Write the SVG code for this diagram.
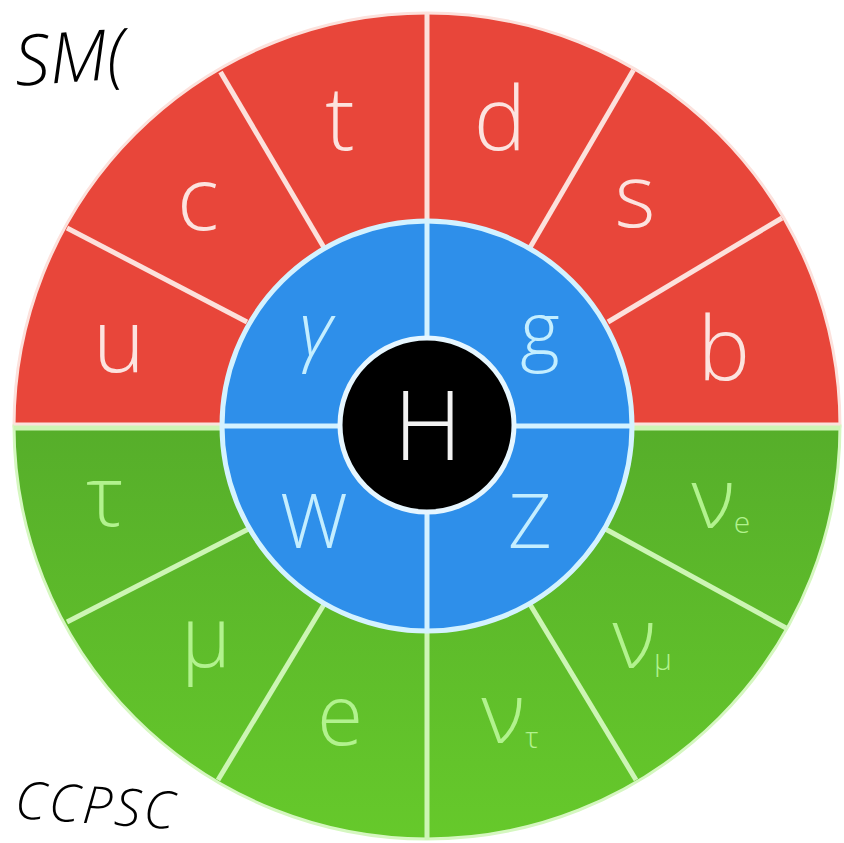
<svg xmlns="http://www.w3.org/2000/svg" width="844" height="843" viewBox="0 0 844 843">
<defs>
<linearGradient id="gGreen" x1="0" y1="426" x2="0" y2="840" gradientUnits="userSpaceOnUse">
<stop offset="0" stop-color="#56AE2A"/>
<stop offset="1" stop-color="#66C92B"/>
</linearGradient>
<style>
.lbl{font-family:"Open Sans","Liberation Sans",sans-serif;font-weight:300;text-anchor:middle}
.r{fill:#FCE3DF;font-size:88px}
.b{fill:#C4EEFF;font-size:76px}
.g{fill:#B2F28E;font-size:84px}
.sub{font-size:30px}
.rl{stroke:#FCE1DC;stroke-width:5;fill:none}
.gl{stroke:#CDF5B5;stroke-width:5;fill:none}
.bl{stroke:#D4F2FF;stroke-width:5;fill:none}
.hand{font-family:"Open Sans","DejaVu Sans",sans-serif;font-style:italic;font-weight:300;fill:#000}
</style>
</defs>
<rect width="844" height="843" fill="#fff"/>
<g id="handwriting">
<text class="hand" x="16" y="86" font-size="70" transform="rotate(-4 16 86)">SM(</text>
<text class="hand" x="14" y="818" font-size="52" letter-spacing="3" transform="rotate(4 14 818)">CCPSC</text>
</g>
<g id="quarks">
<path d="M14,426 A413,413 0 0 1 840,426 Z" fill="#E8463A" stroke="#FCE1DC" stroke-width="3"/>
</g>
<g id="leptons">
<path d="M14,426 A413,413 0 0 0 840,426 Z" fill="url(#gGreen)" stroke="#D5F7C0" stroke-width="3"/>
</g>
<g id="connectors">
<line class="rl" x1="427" y1="12" x2="427" y2="426"/>
<line class="gl" x1="427" y1="426" x2="427" y2="840"/>
<line class="rl" x1="14" y1="425" x2="840" y2="425"/>
<line class="gl" x1="14" y1="428" x2="840" y2="428"/>
<line class="rl" x1="247" y1="322" x2="67" y2="228"/>
<line class="rl" x1="324.5" y1="248.5" x2="220.5" y2="72"/>
<line class="rl" x1="529.5" y1="248.5" x2="633.5" y2="70"/>
<line class="rl" x1="608" y1="322" x2="782" y2="218"/>
<line class="gl" x1="249.5" y1="528.5" x2="67" y2="622"/>
<line class="gl" x1="324.5" y1="603.5" x2="218" y2="780"/>
<line class="gl" x1="529.5" y1="603.5" x2="636" y2="780"/>
<line class="gl" x1="604.5" y1="528.5" x2="786" y2="628"/>
</g>
<g id="bosons">
<circle cx="427" cy="426" r="205" fill="#2E8FEA" stroke="#D4F2FF" stroke-width="5"/>
<line class="bl" x1="427" y1="221" x2="427" y2="631"/>
<line class="bl" x1="222" y1="426" x2="632" y2="426"/>
</g>
<g id="higgs">
<circle cx="427" cy="425" r="87" fill="#000" stroke="#E6F6FF" stroke-width="5"/>
<text class="lbl" x="428" y="460" font-size="95" fill="#F2F2F2">H</text>
</g>
<g id="label-u"><text class="lbl r" x="119" y="372">u</text></g>
<g id="label-c"><text class="lbl r" x="198" y="230">c</text></g>
<g id="label-t"><text class="lbl r" x="340" y="150">t</text></g>
<g id="label-d"><text class="lbl r" x="500" y="150">d</text></g>
<g id="label-s"><text class="lbl r" x="635" y="227">s</text></g>
<g id="label-b"><text class="lbl r" x="724" y="380">b</text></g>
<g id="label-gamma"><text class="lbl b" x="316" y="356" font-style="italic">γ</text></g>
<g id="label-g"><text class="lbl b" x="540" y="356">g</text></g>
<g id="label-W"><text class="lbl b" x="314" y="548">W</text></g>
<g id="label-Z"><text class="lbl b" x="530" y="548">Z</text></g>
<g id="label-tau"><text class="lbl g" x="105" y="526">τ</text></g>
<g id="label-mu"><text class="lbl g" x="206" y="667">μ</text></g>
<g id="label-e"><text class="lbl g" x="340" y="745">e</text></g>
<g id="label-nue"><text class="lbl g" x="713" y="528">ν</text><text class="lbl g sub" x="742" y="533">e</text></g>
<g id="label-numu"><text class="lbl g" x="634" y="668">ν</text><text class="lbl g sub" x="663" y="670">μ</text></g>
<g id="label-nutau"><text class="lbl g" x="503" y="743">ν</text><text class="lbl g sub" x="532" y="748">τ</text></g>
</svg>
